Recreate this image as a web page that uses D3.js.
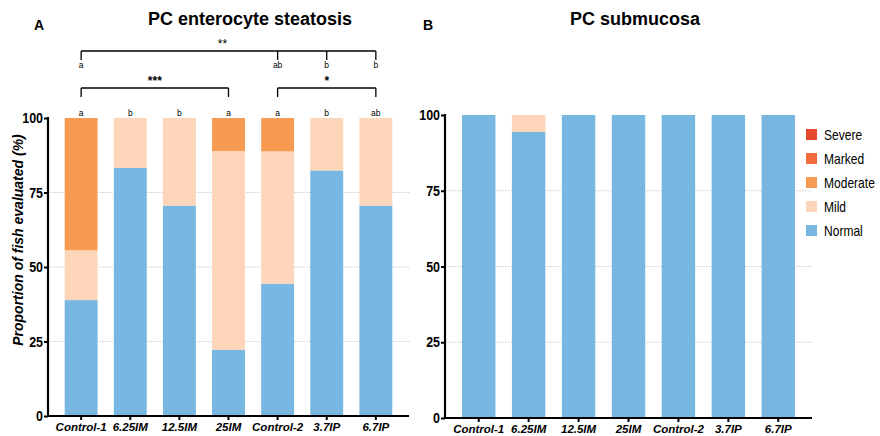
<!DOCTYPE html>
<html>
<head>
<meta charset="utf-8">
<script src="https://cdn.jsdelivr.net/npm/d3@7"></script>
<style>
  html, body { margin: 0; padding: 0; background: #fff; }
  svg { display: block; }
</style>
</head>
<body>
<svg id="chart" width="880" height="436"></svg>
<script>
// Treatment groups
const categories = ["Control-1", "6.25IM", "12.5IM", "25IM", "Control-2", "3.7IP", "6.7IP"];
// Severity grades, bottom to top of each stack
const grades = ["Normal", "Mild", "Moderate", "Marked", "Severe"];
const legendOrder = ["Severe", "Marked", "Moderate", "Mild", "Normal"];
const gradeColors = ["#77b7e2", "#fdd5b8", "#f79b52", "#f26b3b", "#e64a2d"];
const yTicks = [0, 25, 50, 75, 100];

// Panel A: PC enterocyte steatosis (% of fish)
const normalA   = [38.9, 83.3, 70.6, 22.2, 44.4, 82.4, 70.6];
const mildA     = [16.7, 16.7, 29.4, 66.7, 44.4, 17.6, 29.4];
const moderateA = [44.4, 0, 0, 11.1, 11.2, 0, 0];
const markedA   = [0, 0, 0, 0, 0, 0, 0];
const severeA   = [0, 0, 0, 0, 0, 0, 0];
const lettersA  = ["a", "b", "b", "a", "a", "b", "ab"];

// Panel B: PC submucosa (% of fish)
const normalB   = [100, 94.4, 100, 100, 100, 100, 100];
const mildB     = [0, 5.6, 0, 0, 0, 0, 0];
const moderateB = [0, 0, 0, 0, 0, 0, 0];
const markedB   = [0, 0, 0, 0, 0, 0, 0];
const severeB   = [0, 0, 0, 0, 0, 0, 0];

// Significance brackets for panel A
const bracketGroups = [
  { stars: "**",  ends: ["Control-1", "6.7IP"], ticks: ["Control-1", "Control-2", "3.7IP", "6.7IP"], letters: ["a", "ab", "b", "b"], level: 0 },
  { stars: "***", ends: ["Control-1", "25IM"],  ticks: ["Control-1", "25IM"], letters: [], level: 1 },
  { stars: "*",   ends: ["Control-2", "6.7IP"], ticks: ["Control-2", "6.7IP"], letters: [], level: 1 }
];

function toRows(series) {
  return categories.map((c, i) => {
    const row = { group: c };
    grades.forEach((g, k) => { row[g] = series[k][i]; });
    return row;
  });
}

const svg = d3.select("#chart");
const font = '"Liberation Sans", Arial, sans-serif';
const narrow = 0.86; // horizontal squeeze for the condensed tick and legend lettering

function drawPanel(opts) {
  const { rows, x0, x1, yTop, yBottom, title, titleX, letter, letterX } = opts;
  const g = svg.append("g");

  const x = d3.scaleBand().domain(categories).range([x0, x1])
    .paddingInner(0.33).paddingOuter(0.34);
  const y = d3.scaleLinear().domain([0, 100]).range([yBottom, yTop]);

  // dotted gridlines
  g.append("g").selectAll("line")
    .data(yTicks.filter(t => t > 0 && t < 100))
    .join("line")
    .attr("x1", x0).attr("x2", x1)
    .attr("y1", d => y(d)).attr("y2", d => y(d))
    .attr("stroke", "#bdbdbd").attr("stroke-width", 0.8)
    .attr("stroke-dasharray", "1.5,1.5");

  // stacked bars
  const stacked = d3.stack().keys(grades)(rows);
  g.append("g").selectAll("g")
    .data(stacked)
    .join("g")
    .attr("fill", (d, i) => gradeColors[i])
    .selectAll("rect")
    .data(d => d.filter(p => p[1] - p[0] > 0))
    .join("rect")
    .attr("x", d => x(d.data.group))
    .attr("width", x.bandwidth())
    .attr("y", d => y(d[1]))
    .attr("height", d => y(d[0]) - y(d[1]));

  // y axis
  const yAxis = g.append("g")
    .attr("transform", `translate(${x0},0)`)
    .call(d3.axisLeft(y).tickValues(yTicks).tickSize(4).tickPadding(1));
  yAxis.select(".domain").attr("stroke", "#000").attr("stroke-width", 2.2)
    .attr("d", `M0,${yTop - 1}V${yBottom}`);
  yAxis.selectAll(".tick line").attr("stroke", "#000").attr("stroke-width", 2);
  yAxis.selectAll(".tick text")
    .attr("fill", "#000")
    .attr("x", -5 / narrow)
    .attr("transform", `scale(${narrow},1)`)
    .style("font-family", font)
    .style("font-weight", "bold")
    .style("font-size", "14.5px");

  // x axis
  const xAxis = g.append("g")
    .attr("transform", `translate(0,${yBottom})`)
    .call(d3.axisBottom(x).tickSize(4).tickPadding(3));
  xAxis.select(".domain").attr("stroke", "#000").attr("stroke-width", 2.2)
    .attr("d", `M${x0 - 1},0H${x1}`);
  xAxis.selectAll(".tick line").attr("stroke", "#000").attr("stroke-width", 2);
  xAxis.selectAll(".tick text")
    .attr("fill", "#000")
    .style("font-family", font)
    .style("font-weight", "bold")
    .style("font-style", "italic")
    .style("font-size", "11.5px");

  // panel title and letter
  svg.append("text")
    .attr("x", titleX).attr("y", 25)
    .attr("text-anchor", "middle")
    .style("font-family", font)
    .style("font-weight", "bold")
    .style("font-size", "18px")
    .text(title);
  svg.append("text")
    .attr("x", letterX).attr("y", 30)
    .style("font-family", font)
    .style("font-weight", "bold")
    .style("font-size", "14px")
    .text(letter);

  return { x, y };
}

// Panel A
const A = drawPanel({
  rows: toRows([normalA, mildA, moderateA, markedA, severeA]),
  x0: 48, x1: 409, yTop: 118, yBottom: 416,
  title: "PC enterocyte steatosis", titleX: 250,
  letter: "A", letterX: 34
});

// y-axis title for panel A
svg.append("text")
  .attr("transform", "translate(23,240) rotate(-90)")
  .attr("text-anchor", "middle")
  .style("font-family", font)
  .style("font-weight", "bold")
  .style("font-style", "italic")
  .style("font-size", "14px")
  .text("Proportion of fish evaluated (%)");

// letters above bars
const cx = c => A.x(c) + A.x.bandwidth() / 2;
svg.append("g").selectAll("text")
  .data(categories)
  .join("text")
  .attr("x", d => cx(d))
  .attr("y", 116)
  .attr("text-anchor", "middle")
  .style("font-family", font)
  .style("font-size", "8.5px")
  .text((d, i) => lettersA[i]);

// significance brackets
const bracketY = [51, 88];
bracketGroups.forEach(b => {
  const by = bracketY[b.level];
  const gb = svg.append("g").attr("stroke", "#000").attr("stroke-width", 1.3);
  gb.append("line")
    .attr("x1", cx(b.ends[0])).attr("x2", cx(b.ends[1]))
    .attr("y1", by).attr("y2", by);
  gb.selectAll(".tk")
    .data(b.ticks)
    .join("line")
    .attr("x1", d => cx(d)).attr("x2", d => cx(d))
    .attr("y1", by).attr("y2", by + 9);
  svg.append("text")
    .attr("x", (cx(b.ends[0]) + cx(b.ends[1])) / 2 + (b.level === 0 ? -6 : 0))
    .attr("y", by - 3)
    .attr("text-anchor", "middle")
    .style("font-family", font)
    .style("font-weight", b.level === 0 ? "normal" : "bold")
    .style("font-size", "12px")
    .text(b.stars);
  svg.append("g").selectAll("text")
    .data(b.letters)
    .join("text")
    .attr("x", (d, i) => cx(b.ticks[i]))
    .attr("y", by + 17)
    .attr("text-anchor", "middle")
    .style("font-family", font)
    .style("font-size", "8.5px")
    .text(d => d);
});

// Panel B
drawPanel({
  rows: toRows([normalB, mildB, moderateB, markedB, severeB]),
  x0: 445, x1: 812, yTop: 115, yBottom: 418,
  title: "PC submucosa", titleX: 635,
  letter: "B", letterX: 423
});

// legend
const legend = svg.append("g").attr("transform", "translate(806,129)");
const li = legend.selectAll("g")
  .data(legendOrder)
  .join("g")
  .attr("transform", (d, i) => `translate(0,${i * 24})`);
li.append("rect")
  .attr("width", 11).attr("height", 11)
  .attr("fill", d => gradeColors[grades.indexOf(d)]);
li.append("text")
  .attr("transform", `translate(18,10.5) scale(${narrow},1)`)
  .style("font-family", font)
  .style("font-size", "14px")
  .text(d => d);
</script>
</body>
</html>
